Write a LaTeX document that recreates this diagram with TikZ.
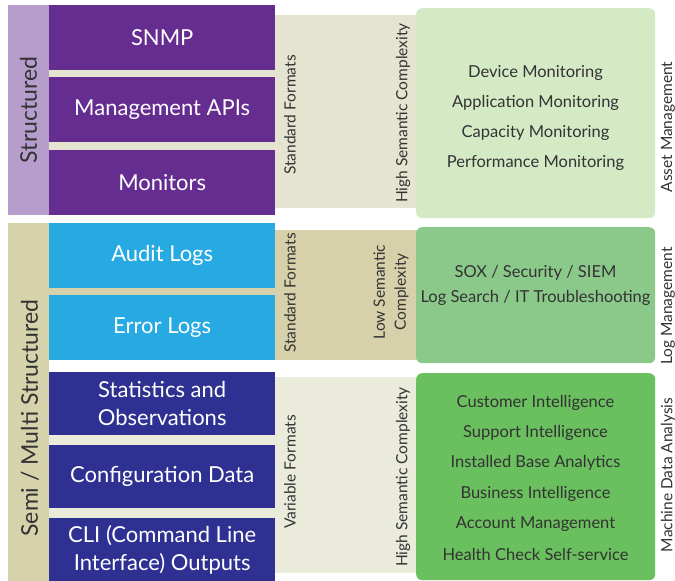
\documentclass[tikz,border=0pt]{standalone}
\usepackage{fontspec}
\setmainfont{Lato}
\usetikzlibrary{positioning}

\definecolor{structband}{HTML}{B69DCB}
\definecolor{semiband}{HTML}{D6D2AC}
\definecolor{snmppurple}{HTML}{662D91}
\definecolor{logcyan}{HTML}{27AAE1}
\definecolor{datablue}{HTML}{2E3192}
\definecolor{fmtlight}{HTML}{E4E4D0}
\definecolor{fmttan}{HTML}{D6D1AA}
\definecolor{fmtpale}{HTML}{EBEBDC}
\definecolor{assetgreen}{HTML}{D3EAC5}
\definecolor{loggreen}{HTML}{8BC98A}
\definecolor{mdagreen}{HTML}{6ABF5E}
\definecolor{inktext}{HTML}{333333}

\tikzset{
  srcbox/.style={anchor=north west,inner sep=0pt,minimum width=226,text=white,align=center,font=\fontsize{22}{28}\selectfont},
  fmtband/.style={anchor=north west,inner sep=0pt,minimum width=368},
  usebox/.style={anchor=north west,inner sep=0pt,minimum width=239,rounded corners=6},
  sideband/.style={rotate=90,inner sep=0pt,minimum height=41,text=inktext,font=\fontsize{23}{26}\selectfont},
  vlabel/.style={rotate=90,inner sep=0pt,text=inktext,align=center,font=\fontsize{15.5}{21}\selectfont},
  usetext/.style={text=inktext,inner sep=0pt,font=\fontsize{16.5}{19}\selectfont}
}

\begin{document}
\begin{tikzpicture}[x=1pt,y=-1pt]
\useasboundingbox (0,0) rectangle (675,581);

% format bands behind the sources
\node (fmtA) at (49,15) [fmtband,fill=fmtlight,minimum height=193] {};
\node (fmtB) at (49,230) [fmtband,fill=fmttan,minimum height=130] {};
\node (fmtC) at (49,377) [fmtband,fill=fmtpale,minimum height=196] {};

% left bands
\node (structured) at (28.5,110) [sideband,fill=structband,minimum width=210] {Structured};
\node (semi) at (28.5,402) [sideband,fill=semiband,minimum width=358] {};
\node (semilbl) at (30,418) [sideband,minimum height=0] {Semi / Multi Structured};

% sources
\node (snmp) at (49,5) [srcbox,fill=snmppurple,minimum height=65] {SNMP};
\node (mgmtapi) at (49,77) [srcbox,fill=snmppurple,minimum height=65] {Management APIs};
\node (monitors) at (49,150) [srcbox,fill=snmppurple,minimum height=65] {Monitors};
\node (audit) at (49,223) [srcbox,fill=logcyan,minimum height=65] {Audit Logs};
\node (error) at (49,295) [srcbox,fill=logcyan,minimum height=65] {Error Logs};
\node (stats) at (49,372) [srcbox,fill=datablue,minimum height=63] {Statistics and\\Observations};
\node (config) at (49,445) [srcbox,fill=datablue,minimum height=63] {Configuration Data};
\node (cli) at (49,518) [srcbox,fill=datablue,minimum height=63] {CLI (Command Line\\Interface) Outputs};

% format labels
\node (stdA) at (290,115) [vlabel] {Standard Formats};
\node (highA) at (403,113) [vlabel] {High Semantic Complexity};
\node (stdB) at (290,293) [vlabel] {Standard Formats};
\node (lowB) at (391,292) [vlabel] {Low Semantic\\Complexity};
\node (varC) at (290,472) [vlabel] {Variable Formats};
\node (highC) at (403,477) [vlabel] {High Semantic Complexity};

% use cases
\node (asset) at (416,8) [usebox,fill=assetgreen,minimum height=210] {};
\node (logm) at (416,227) [usebox,fill=loggreen,minimum height=136] {};
\node (mda) at (416,373) [usebox,fill=mdagreen,minimum height=207] {};

\node (dev) at (535.5,73) [usetext] {Device Monitoring};
\node (app) at (535.5,103) [usetext] {Application Monitoring};
\node (cap) at (535.5,133) [usetext] {Capacity Monitoring};
\node (perf) at (535.5,163) [usetext] {Performance Monitoring};

\node (sox) at (535.5,273) [usetext] {SOX / Security / SIEM};
\node (logsearch) at (535.5,298) [usetext] {Log Search / IT Troubleshooting};

\node (cust) at (535.5,403) [usetext] {Customer Intelligence};
\node (supp) at (535.5,433) [usetext] {Support Intelligence};
\node (inst) at (535.5,463) [usetext] {Installed Base Analytics};
\node (bus) at (535.5,494) [usetext] {Business Intelligence};
\node (acct) at (535.5,524) [usetext] {Account Management};
\node (health) at (535.5,554) [usetext] {Health Check Self-service};

% use case labels
\node (assetlbl) at (668,127) [vlabel] {Asset Management};
\node (loglbl) at (668,306) [vlabel] {Log Management};
\node (mdalbl) at (668,475) [vlabel] {Machine Data Analysis};
\end{tikzpicture}
\end{document}
